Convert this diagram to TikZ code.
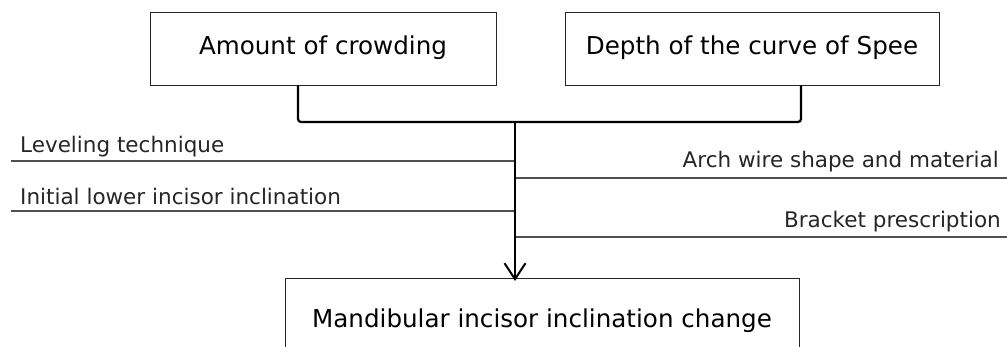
\documentclass[tikz,border=0pt]{standalone}
\usepackage{fontspec}
\setmainfont{DejaVu Sans}
\usetikzlibrary{arrows.meta}
\definecolor{lab}{RGB}{80,80,80}
\tikzset{
  boxnode/.style={draw=black!85, line width=0.9pt, inner sep=0pt, text height=18pt, text depth=5pt, font=\fontsize{24.6}{28}\selectfont},
  labtext/.style={inner sep=0pt, font=\fontsize{21.5}{25}\selectfont, text=black!85},
  labline/.style={draw=lab, line width=2.2pt},
  mainline/.style={draw=black, line width=2.2pt, line cap=butt},
}
\begin{document}
\begin{tikzpicture}[x=1pt,y=-1pt]
\useasboundingbox (0,0) rectangle (1007,347);
\clip (0,0) rectangle (1007,347);
\node[boxnode, minimum width=346pt, minimum height=73pt] (a) at (323,48.5) {Amount of crowding};
\node[boxnode, minimum width=374pt, minimum height=73pt] (b) at (752,48.5) {Depth of the curve of Spee};
\node[boxnode, minimum width=514pt, minimum height=85pt, anchor=north] (c) at (542,278) {Mandibular incisor inclination change};
\coordinate (j) at (515,122);
% label lines
\coordinate (l1) at (11,161);
\coordinate (l2) at (11,211);
\coordinate (r1) at (1007,178);
\coordinate (r2) at (1007,237);
\draw[labline] (l1) -- (l1 -| j);
\draw[labline] (l2) -- (l2 -| j);
\draw[labline] (r1 -| j) -- (r1);
\draw[labline] (r2 -| j) -- (r2);
\node[labtext, anchor=base west] (t1) at (20,153) {Leveling technique};
\node[labtext, anchor=base west] (t2) at (20,205) {Initial lower incisor inclination};
\node[labtext, anchor=base east] (t3) at (999,168) {Arch wire shape and material};
\node[labtext, anchor=base east] (t4) at (1001,228) {Bracket prescription};
% bracket
\draw[mainline, rounded corners=3pt] ([xshift=-25pt]a.south) |- (j) -| ([xshift=49pt]b.south);
\draw[mainline, -{Straight Barb[length=16pt, width=21pt, line width=2pt]}] (j) -- ([yshift=-3pt]j |- c.north);
\end{tikzpicture}
\end{document}
